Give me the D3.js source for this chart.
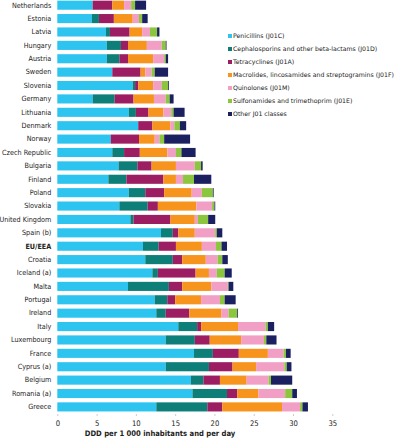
<!DOCTYPE html>
<html>
<head>
<meta charset="utf-8">
<script src="https://cdn.jsdelivr.net/npm/d3@7"></script>
<style>
  body { margin: 0; background: #fff; }
  svg text { font-family: "DejaVu Sans Condensed", "DejaVu Sans", sans-serif; fill: #222; }
</style>
</head>
<body>
<svg id="chart" width="396" height="440"></svg>
<script>
// countries, top to bottom
const countries = ["Netherlands", "Estonia", "Latvia", "Hungary", "Austria", "Sweden", "Slovenia", "Germany",
  "Lithuania", "Denmark", "Norway", "Czech Republic", "Bulgaria", "Finland", "Poland", "Slovakia",
  "United Kingdom", "Spain (b)", "EU/EEA", "Croatia", "Iceland (a)", "Malta", "Portugal", "Ireland",
  "Italy", "Luxembourg", "France", "Cyprus (a)", "Belgium", "Romania (a)", "Greece"]

const classes = ["Penicillins (J01C)", "Cephalosporins and other beta-lactams (J01D)", "Tetracyclines (J01A)",
  "Macrolides, lincosamides and streptogramins (J01F)", "Quinolones (J01M)",
  "Sulfonamides and trimethoprim (J01E)", "Other J01 classes"]

const colors = ["#2ec4f0", "#0e7e78", "#9c1d61", "#f7941d", "#f29fc5", "#8cc63e", "#1a2060"]

// DDD per 1 000 inhabitants and per day, one value per country
const penicillins =    [4.5, 4.4, 6.2, 6.3, 6.3, 7.0, 9.6, 4.5, 9.1, 10.3, 6.8, 7.0, 7.8, 6.5, 9.1, 7.9, 9.3, 13.2, 10.9, 11.2, 12.1, 9.0, 12.4, 12.6, 15.4, 13.8, 17.4, 13.8, 17.0, 17.2, 12.6]
const cephalosporins = [0.0, 0.9, 0.5, 1.8, 1.6, 0.0, 0.3, 2.8, 0.9, 0.0, 0.0, 1.5, 2.4, 2.3, 2.1, 3.6, 0.4, 1.5, 2.0, 3.5, 0.7, 5.2, 1.6, 1.2, 2.4, 3.7, 2.4, 5.5, 1.6, 4.4, 6.5]
const tetracyclines =  [2.5, 1.9, 2.5, 0.9, 1.1, 3.6, 0.4, 2.4, 1.6, 1.8, 3.6, 2.0, 1.8, 4.7, 2.4, 1.3, 4.7, 0.7, 2.2, 1.2, 4.8, 1.7, 1.0, 3.0, 0.5, 1.9, 3.3, 3.0, 2.1, 1.3, 1.9]
const macrolides =     [1.5, 2.4, 1.6, 2.4, 3.2, 0.6, 1.9, 2.6, 1.9, 2.3, 2.0, 3.5, 3.1, 1.6, 3.5, 4.9, 3.1, 2.1, 3.3, 3.0, 1.7, 3.7, 3.3, 4.1, 4.7, 4.0, 3.7, 3.0, 3.4, 2.7, 7.6]
const quinolones =     [0.9, 0.8, 1.0, 1.9, 1.4, 0.8, 1.1, 1.5, 1.0, 0.5, 0.6, 1.1, 2.4, 0.9, 1.3, 2.0, 0.4, 2.6, 1.8, 1.5, 1.0, 2.1, 2.4, 0.9, 3.5, 2.9, 2.0, 3.6, 2.8, 3.4, 2.3]
const sulfonamides =   [0.5, 0.4, 0.9, 0.5, 0.2, 0.4, 0.8, 0.5, 0.3, 0.7, 0.6, 0.7, 0.8, 1.4, 1.4, 0.3, 1.3, 0.2, 0.7, 0.6, 1.0, 0.1, 0.6, 1.1, 0.3, 0.3, 0.3, 0.3, 0.3, 0.9, 0.3]
const other =          [1.4, 0.7, 0.3, 0.1, 0.3, 1.7, 0.1, 0.5, 1.4, 0.8, 3.3, 1.8, 0.2, 2.2, 0.1, 0.1, 0.9, 0.7, 0.7, 0.7, 0.9, 0.6, 1.4, 0.1, 0.8, 1.3, 0.6, 0.6, 2.7, 0.6, 0.7]

const xTicks = [0, 5, 10, 15, 20, 25, 30, 35]

// build rows for the stack
const series = [penicillins, cephalosporins, tetracyclines, macrolides, quinolones, sulfonamides, other]
const rows = countries.map(function (c, i) {
  let r = { country: c }
  classes.forEach(function (k, j) { r[k] = series[j][i] })
  return r
})

const svg = d3.select("#chart")

const plotVars = {
  left: 57.3,
  right: 332.3,
  top: -1.5,
  bottom: 413.6
}

let xScale = d3.scaleLinear()
  .domain([0, 35])
  .range([plotVars.left, plotVars.right])

let yScale = d3.scaleBand()
  .domain(countries)
  .range([plotVars.top, plotVars.bottom])
  .paddingInner(0.32)
  .paddingOuter(0.16)

let stacked = d3.stack().keys(classes)(rows)

// bars
svg.append("g")
  .selectAll("g")
  .data(stacked)
  .enter()
  .append("g")
  .attr("fill", function (d, i) { return colors[i] })
  .selectAll("rect")
  .data(function (d) { return d })
  .enter()
  .append("rect")
  .attr("x", function (d) { return xScale(d[0]) })
  .attr("width", function (d) { return Math.max(0, xScale(d[1]) - xScale(d[0])) })
  .attr("y", function (d) { return yScale(d.data.country) })
  .attr("height", yScale.bandwidth())

// country labels
let yAxis = d3.axisLeft(yScale).tickSize(0).tickPadding(6)
let yAxisGroup = svg.append("g")
  .attr("transform", "translate(" + plotVars.left + ",0)")
  .call(yAxis)
yAxisGroup.select(".domain").remove()
yAxisGroup.selectAll("text")
  .attr("font-family", null)
  .style("font-size", "7.2px")
  .style("font-weight", function (d) { return d == "EU/EEA" ? "bold" : "normal" })

// x axis
let xAxis = d3.axisBottom(xScale).tickValues(xTicks).tickSize(2).tickPadding(5)
let xAxisGroup = svg.append("g")
  .attr("transform", "translate(0,414)")
  .call(xAxis)
xAxisGroup.select(".domain").remove()
xAxisGroup.selectAll("line").attr("stroke", "#ccc")
xAxisGroup.selectAll("text")
  .attr("font-family", null)
  .style("font-size", "7.6px")

// x axis title
svg.append("text")
  .attr("x", 160)
  .attr("y", 436)
  .style("text-anchor", "middle")
  .style("font-size", "7.6px")
  .style("font-weight", "bold")
  .text("DDD per 1 000 inhabitants and per day")

// legend
let legend = svg.append("g").attr("transform", "translate(228,36)")
classes.forEach(function (k, i) {
  legend.append("rect")
    .attr("x", 0).attr("y", i * 13 - 2)
    .attr("width", 4).attr("height", 4)
    .attr("fill", colors[i])
  legend.append("text")
    .attr("class", "legend-text")
    .attr("x", 5).attr("y", i * 13)
    .attr("dominant-baseline", "middle")
    .style("font-family", "'DejaVu Sans', sans-serif")
    .style("font-size", "7px")
    .text(k)
})

// the longest legend entry should end near the right edge, like the original
let widest = d3.max(legend.selectAll(".legend-text").nodes(), function (n) { return n.getComputedTextLength() })
legend.selectAll(".legend-text").style("font-size", (7 * 161 / widest) + "px")
</script>
</body>
</html>
